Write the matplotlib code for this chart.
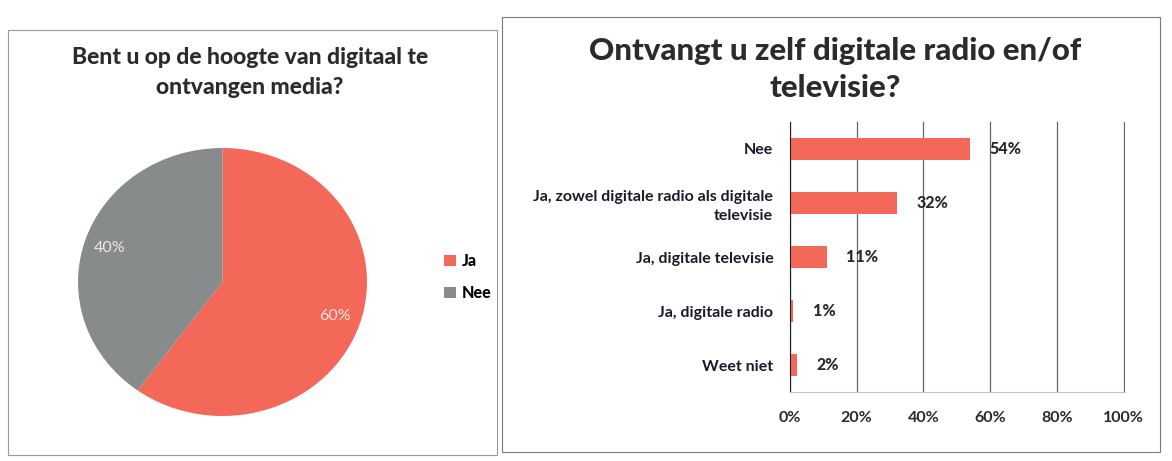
import matplotlib.pyplot as plt
from matplotlib.patches import Rectangle

plt.rcParams['font.family'] = ['Lato', 'DejaVu Sans']

# left chart: pie
pie_labels = ['Ja', 'Nee']
pie_values = [60, 40]
pie_colors = ['#F4685A', '#888B8B']
pie_title = ['Bent u op de hoogte van digitaal te', 'ontvangen media?']

# right chart: horizontal bars (top to bottom)
bar_labels = ['Nee', 'Ja, zowel digitale radio als digitale\ntelevisie',
              'Ja, digitale televisie', 'Ja, digitale radio', 'Weet niet']
bar_values = [54, 32, 11, 1, 2]
x_ticks = [0, 20, 40, 60, 80, 100]
bar_title = ['Ontvangt u zelf digitale radio en/of', 'televisie?']

W, H = 1172, 461
fig = plt.figure(figsize=(W / 100, H / 100), dpi=100)


def px(x0, y0, x1, y1):
  # pixel box (top-left origin) -> figure fraction rect
  return [x0 / W, 1 - y1 / H, (x1 - x0) / W, (y1 - y0) / H]


# panel borders
fig.add_artist(Rectangle((8 / W, 1 - 455 / H), 489 / W, 425 / H, transform=fig.transFigure,
                         fill=False, edgecolor='#9a9a9a', linewidth=0.8))
fig.add_artist(Rectangle((502 / W, 1 - 452 / H), 658 / W, 435 / H, transform=fig.transFigure,
                         fill=False, edgecolor='#7a7a7a', linewidth=0.8))

# ---- pie ----
ax1 = fig.add_axes(px(78, 148, 367, 416))
wedges, texts, autotexts = ax1.pie(pie_values, colors=pie_colors, startangle=90,
                                   counterclock=False, autopct='%1.0f%%', pctdistance=0.82,
                                   textprops=dict(color='#f3e6e0', fontsize=11.5))
ax1.set_xlim(-1, 1)
ax1.set_ylim(-1, 1)
ax1.set_aspect('auto')
for line, y in zip(pie_title, [58, 88]):
  fig.text(250 / W, 1 - y / H, line, ha='center', va='center', fontsize=16.5,
           fontweight='black', color='#2b2b2b')
fig.legend(wedges, pie_labels, loc='center left', bbox_to_anchor=(430 / W, 1 - 277 / H),
           frameon=False, handlelength=0.7, handleheight=0.7, handletextpad=0.4,
           labelspacing=1.0, prop=dict(size=11.5, weight='black'))

# ---- bars ----
ax2 = fig.add_axes(px(790, 122, 1125, 392))
ypos = list(range(len(bar_values)))
ax2.barh(ypos, bar_values, height=0.4, color='#F4685A')
ax2.set_ylim(len(bar_values) - 0.5, -0.5)
ax2.set_xlim(0, 100.4)
ax2.set_xticks(x_ticks)
ax2.set_xticklabels(['{0}%'.format(t) for t in x_ticks])
ax2.set_yticks(ypos)
ax2.set_yticklabels(bar_labels, linespacing=1.45)
ax2.tick_params(axis='y', length=0, pad=12, labelsize=11.5)
ax2.tick_params(axis='x', length=0, pad=14, labelsize=11.5)
for lbl in ax2.get_yticklabels():
  lbl.set_fontweight('bold')
  lbl.set_color('#1a1a2a')
for lbl in ax2.get_xticklabels():
  lbl.set_fontweight('bold')
  lbl.set_color('#2a2a2a')
ax2.grid(axis='x', color='#666666', linewidth=0.9)
ax2.set_axisbelow(True)
for s in ['top', 'right']:
  ax2.spines[s].set_visible(False)
ax2.spines['left'].set_color('#222222')
ax2.spines['bottom'].set_color('#c4c4c4')
for i, v in enumerate(bar_values):
  ax2.annotate('{0}%'.format(v), (v, i), xytext=(14, 0), textcoords='offset points',
               va='center', ha='left', fontsize=11.5, fontweight='black', color='#2a2a2a')

for line, y in zip(bar_title, [51, 88]):
  fig.text(835 / W, 1 - y / H, line, ha='center', va='center', fontsize=22.5,
           fontweight='black', color='#2b2b2b')

fig.savefig('out.png', dpi=100)
